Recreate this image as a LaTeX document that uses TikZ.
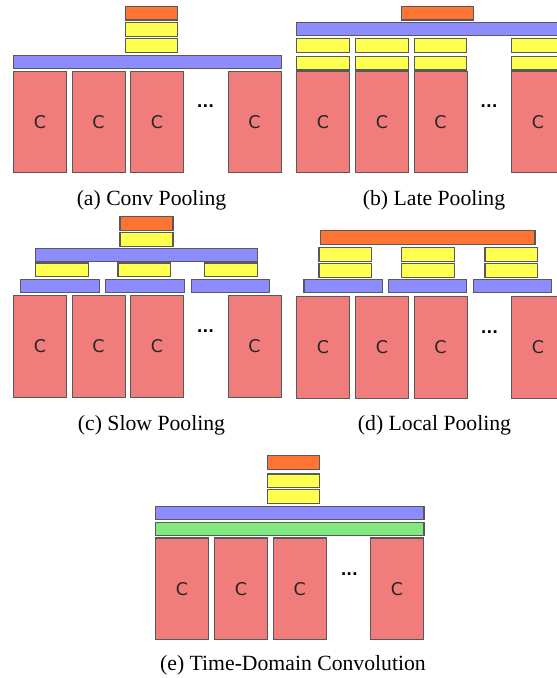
\documentclass[tikz,border=0pt]{standalone}
\usepackage{fontspec}
\setmainfont{Liberation Serif}
\setsansfont{DejaVu Sans}
\definecolor{convred}{RGB}{240,124,124}
\definecolor{poolblue}{RGB}{140,140,255}
\definecolor{fcyellow}{RGB}{255,255,80}
\definecolor{softorange}{RGB}{255,116,51}
\definecolor{tconvgreen}{RGB}{128,234,128}
\begin{document}
\begin{tikzpicture}[x=1pt, y=-1pt,
    box/.style={draw=black!65, line width=1.2pt, inner sep=0pt, anchor=north west},
    conv/.style={box, fill=convred, minimum width=53pt, minimum height=101.5pt,
        text=black!85, font=\sffamily\fontsize{17.5}{17.5}\selectfont},
    pool/.style={box, fill=poolblue, minimum height=13.5pt},
    fc/.style={box, fill=fcyellow, minimum width=52.5pt, minimum height=13.8pt},
    soft/.style={box, fill=softorange, minimum height=13.8pt},
    tconv/.style={box, fill=tconvgreen, minimum height=13.3pt},
    dots/.style={inner sep=0pt, font=\sffamily\bfseries\fontsize{15}{15}\selectfont},
    caption/.style={anchor=base, font=\fontsize{21.7}{26}\selectfont}]
                \clip (0,0) rectangle (557,678);
                
                \foreach \x/\n in {13/1, 71.5/2, 130/3, 227.5/4}
                    \node[conv] (ac\n) at (\x,70.5) {C};
                \node[dots] (adots) at (205.5,106) {...};
                \node[pool, minimum width=268pt] (apool) at (13,54.5) {};
                \node[fc] (afc1) at (124.5,38) {};
                \node[fc] (afc2) at (124.5,22) {};
                \node[soft, minimum width=52.5pt] (asoft) at (124.5,5.5) {};
                \node[caption] (acap) at (151.5,205) {(a) Conv Pooling};
                
                \foreach \x/\n in {296/1, 355/2, 413.5/3, 511/4} {
                    \node[conv] (bc\n) at (\x,70.5) {C};
                    \node[fc] (bfc\n) at (\x,55.5) {};
                    \node[fc] (bfd\n) at (\x,38) {};
                }
                \node[dots] (bdots) at (489,106) {...};
                \node[pool, minimum width=270pt] (bpool) at (296,21.7) {};
                \node[soft, minimum width=72pt] (bsoft) at (401,5.5) {};
                \node[caption] (bcap) at (434,205) {(b) Late Pooling};
                
                \foreach \x/\n in {13/1, 71.5/2, 130/3, 227.5/4}
                    \node[conv] (cc\n) at (\x,295.2) {C};
                \node[dots] (cdots) at (205.5,331.5) {...};
                \foreach \x/\n in {20/1, 105/2, 190.7/3}
                    \node[pool, minimum width=78.5pt] (cpool\n) at (\x,278.5) {};
                \foreach \x/\n in {35/1, 117.3/2, 204/3}
                    \node[fc] (cfc\n) at (\x,262.3) {};
                \node[pool, minimum width=221.7pt] (ctop) at (35,247.7) {};
                \node[fc, minimum width=53pt] (cfc) at (119.3,232) {};
                \node[soft, minimum width=53pt] (csoft) at (119.3,216) {};
                \node[caption] (ccap) at (151.5,430.5) {(c) Slow Pooling};
                
                \foreach \x/\n in {296/1, 355/2, 413.5/3, 511/4}
                    \node[conv] (dc\n) at (\x,296) {C};
                \node[dots] (ddots) at (489.5,332.5) {...};
                \foreach \x/\n in {303.3/1, 387.7/2, 472.7/3}
                    \node[pool, minimum width=78.5pt] (dpool\n) at (\x,278.7) {};
                \foreach \x/\n in {318.3/1, 401/2, 484.3/3} {
                    \node[fc] (dfc\n) at (\x,262.7) {};
                    \node[fc] (dfd\n) at (\x,246.7) {};
                }
                \node[soft, minimum width=214.3pt] (dsoft) at (320,230) {};
                \node[caption] (dcap) at (434.5,430.5) {(d) Local Pooling};
                
                \foreach \x/\n in {155/1, 214/2, 272.7/3, 370/4}
                    \node[conv] (ec\n) at (\x,537.3) {C};
                \node[dots] (edots) at (349.3,574) {...};
                \node[tconv, minimum width=268.3pt] (etconv) at (155,521.7) {};
                \node[pool, minimum width=268.3pt] (epool) at (155,505.7) {};
                \node[fc] (efc1) at (266.7,489) {};
                \node[fc] (efc2) at (266.7,473.3) {};
                \node[soft, minimum width=52.5pt] (esoft) at (266.7,455) {};
                \node[caption] (ecap) at (293,670.5) {(e) Time-Domain Convolution};
\end{tikzpicture}
\end{document}
